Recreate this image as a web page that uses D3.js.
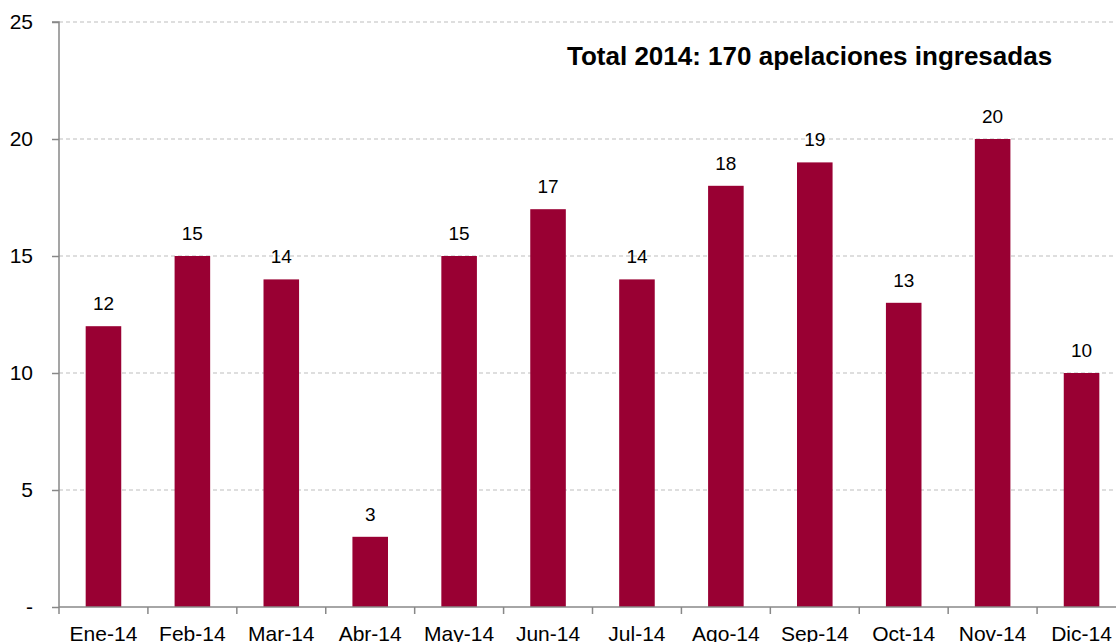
<!DOCTYPE html>
<html>
<head>
<meta charset="utf-8">
<script src="https://cdn.jsdelivr.net/npm/d3@7"></script>
<style>
  body { margin: 0; background: #fff; }
  text { font-family: "Liberation Sans", Arial, sans-serif; }
</style>
</head>
<body>
<script>
// chart values
const months = ["Ene-14", "Feb-14", "Mar-14", "Abr-14", "May-14", "Jun-14",
                "Jul-14", "Ago-14", "Sep-14", "Oct-14", "Nov-14", "Dic-14"];
const appeals = [12, 15, 14, 3, 15, 17, 14, 18, 19, 13, 20, 10];
const yTicks = [0, 5, 10, 15, 20, 25];
const title = "Total 2014: 170 apelaciones ingresadas";

const width = 1116, height = 642;
const x0 = 59, x1 = 1126, yTop = 22, yBase = 607;

const svg = d3.select("body").append("svg")
    .attr("width", width)
    .attr("height", height);

const x = d3.scaleBand().domain(months).range([x0, x1]).paddingInner(0.6).paddingOuter(0.3);
const y = d3.scaleLinear().domain([0, 25]).range([yBase, yTop]);

// gridlines
svg.selectAll(".grid")
    .data(yTicks.filter(d => d > 0))
    .join("line")
    .attr("class", "grid")
    .attr("x1", x0).attr("x2", width)
    .attr("y1", d => y(d)).attr("y2", d => y(d))
    .attr("stroke", "#bdbdbd")
    .attr("stroke-width", 1)
    .attr("stroke-dasharray", "4,3");

// bars
svg.selectAll(".bar")
    .data(appeals)
    .join("rect")
    .attr("class", "bar")
    .attr("x", (d, i) => x(months[i]))
    .attr("width", x.bandwidth())
    .attr("y", d => y(d))
    .attr("height", d => yBase - y(d))
    .attr("fill", "#990033");

// value labels
svg.selectAll(".val")
    .data(appeals)
    .join("text")
    .attr("class", "val")
    .attr("x", (d, i) => x(months[i]) + x.bandwidth() / 2)
    .attr("y", d => y(d) - 16)
    .attr("text-anchor", "middle")
    .attr("font-size", 19)
    .attr("fill", "#000")
    .text(d => d);

// y axis
const yAxis = d3.axisLeft(y)
    .tickValues(yTicks)
    .tickSize(7)
    .tickPadding(19)
    .tickFormat(d => d === 0 ? "-" : d);
const gy = svg.append("g").attr("transform", `translate(${x0},0)`).call(yAxis);
gy.select(".domain").attr("stroke", "#888").attr("stroke-width", 1.5).attr("d", `M-7,${yTop}H0V${yBase}`);
gy.selectAll(".tick line").attr("stroke", "#888").attr("stroke-width", 1.5);
gy.selectAll(".tick text").attr("font-size", 21).attr("fill", "#000")
    .style("font-family", "Liberation Sans, Arial, sans-serif");

// x axis with ticks at band boundaries
const xb = d3.scaleLinear().domain([0, months.length]).range([x0, x1]);
const gx = svg.append("g");
gx.append("line")
    .attr("x1", x0).attr("x2", width)
    .attr("y1", yBase).attr("y2", yBase)
    .attr("stroke", "#888").attr("stroke-width", 1.5);
gx.selectAll(".xt")
    .data(d3.range(months.length + 1))
    .join("line")
    .attr("class", "xt")
    .attr("x1", d => xb(d)).attr("x2", d => xb(d))
    .attr("y1", yBase).attr("y2", yBase + 7)
    .attr("stroke", "#888").attr("stroke-width", 1.5);
gx.selectAll(".xl")
    .data(months)
    .join("text")
    .attr("class", "xl")
    .attr("x", d => x(d) + x.bandwidth() / 2)
    .attr("y", 641)
    .attr("text-anchor", "middle")
    .attr("font-size", 21)
    .text(d => d);

// title
svg.append("text")
    .attr("x", 567)
    .attr("y", 65)
    .attr("font-size", 26)
    .attr("font-weight", "bold")
    .text(title);
</script>
</body>
</html>
